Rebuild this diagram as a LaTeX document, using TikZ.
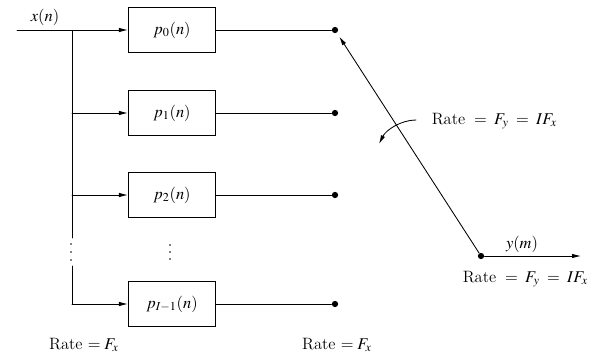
\documentclass[tikz,border=0pt]{standalone}
\usepackage{mathptmx}
\usetikzlibrary{arrows.meta}
\tikzset{
    bank/diagram/.style={
        x=0.7pt, y=-0.7pt,
        line width=0.6pt,
        line cap=round,
        font=\fontsize{11.5}{14}\selectfont,
        every node/.style={inner sep=2pt}
    },
    bank/filter/.style={draw, line width=0.75pt, minimum width=61pt, minimum height=32pt},
    bank/feed/.style={-{Latex[length=2.2mm, width=1.1mm]}},
    bank/tap/.style={circle, fill=black, draw=none, inner sep=0pt, minimum size=4.4pt},
    bank/dot/.style={circle, fill=black, draw=none, inner sep=0pt, minimum size=1.3pt},
    bank/label/.style={inner sep=1pt}
}

\begin{document}
\begin{tikzpicture}[bank/diagram]
    \useasboundingbox (0,0) rectangle (592,359);

    % Input and the bus that feeds the filters.
    \coordinate (in) at (17,30);
    \node[bank/label] (xin) at (45,17) {$x(n)$};
    \coordinate (b0) at (72,30);
    \coordinate (b1) at (72,113);
    \coordinate (b2) at (72,195);
    \coordinate (b3) at (72,304);
    \coordinate (gaptop) at (72,238);
    \coordinate (gapbot) at (72,266);
    \foreach \y in {244,252,260}
        \node[bank/dot] at (71,\y) {};

    % The polyphase filters.
    \node[bank/filter] (p0) at (172,30) {$p_0(n)$};
    \node[bank/filter] (p1) at (172,113) {$p_1(n)$};
    \node[bank/filter] (p2) at (172,195) {$p_2(n)$};
    \node[bank/filter] (p3) at (172,304) {$p_{I-1}(n)$};
    \foreach \y in {245,252,259}
        \node[bank/dot] at (170,\y) {};

    \draw (in) -- (b0) -- (gaptop);
    \draw (gapbot) -- (b3);
    \foreach \k in {0,...,3}
        \draw[bank/feed] (b\k) -- (p\k.west);

    % Output taps.
    \node[bank/tap] (t0) at (335,30) {};
    \node[bank/tap] (t1) at (335,113) {};
    \node[bank/tap] (t2) at (335,195) {};
    \node[bank/tap] (t3) at (335,304) {};
    \foreach \k in {0,...,3}
        \draw (p\k.east) -- (t\k);

    % Commutator.
    \node[bank/tap] (hub) at (481,256) {};
    \coordinate (out) at (581,256);
    \draw[bank/feed, shorten >=3pt] (hub) -- (t0);
    \draw[bank/feed] (hub) -- (out);
    \node[bank/label] (yout) at (522,244) {$y(m)$};
    \coordinate (rotA) at (416,120);
    \coordinate (rotB) at (379,144);
    \draw[bank/feed] (rotA) .. controls (401,120) and (386,130) .. (rotB);

    % Rates.
    \node[bank/label, anchor=west] (ratey) at (430,121) {Rate $\;=\;F_y\;=\;IF_x$};
    \node[bank/label, anchor=west] (rateout) at (461,279) {Rate $\;=\;F_y\;=\;IF_x$};
    \node[bank/label] (ratein) at (84,345) {Rate $=F_x$};
    \node[bank/label] (ratetap) at (337,345) {Rate $=F_x$};
\end{tikzpicture}
\end{document}
